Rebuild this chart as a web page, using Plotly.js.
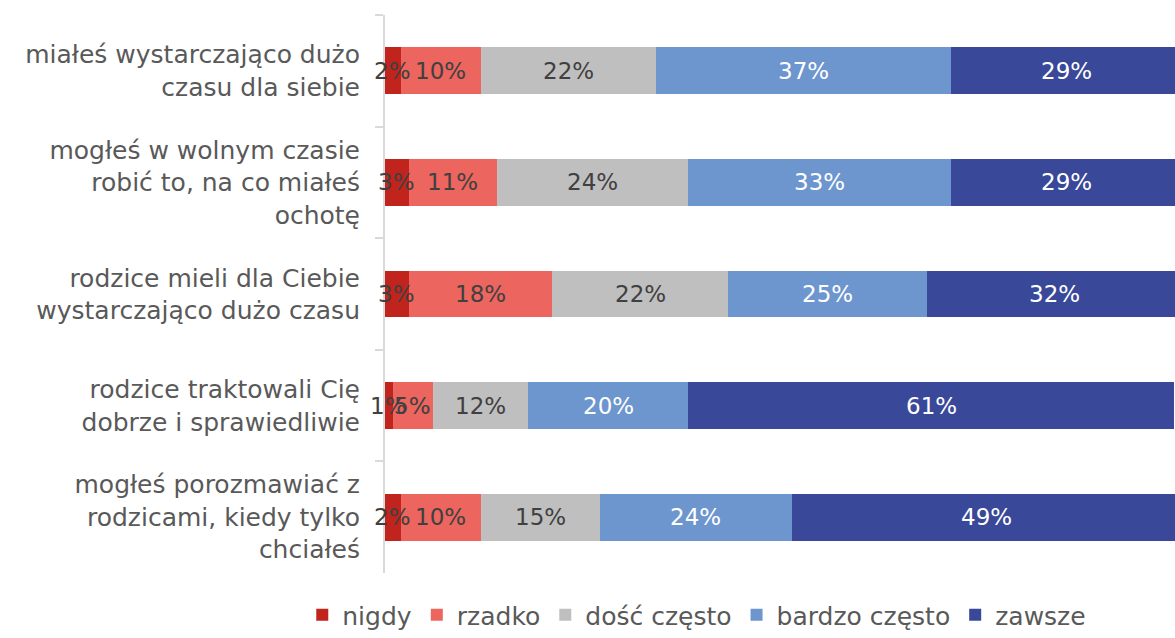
<!DOCTYPE html>
<html><head><meta charset="utf-8">
<script src="https://cdn.plot.ly/plotly-3.0.1.min.js"></script>
<style>html,body{margin:0;padding:0;background:#fff;}#chart{width:1175px;height:638px;}</style>
</head><body><div id="chart"></div>
<script>
const categories = [
  "miałeś wystarczająco dużo<br>czasu dla siebie",
  "mogłeś w wolnym czasie<br>robić to, na co miałeś<br>ochotę",
  "rodzice mieli dla Ciebie<br>wystarczająco dużo czasu",
  "rodzice traktowali Cię<br>dobrze i sprawiedliwie",
  "mogłeś porozmawiać z<br>rodzicami, kiedy tylko<br>chciałeś"
];
const seriesNames = ["nigdy", "rzadko", "dość często", "bardzo często", "zawsze"];
const nigdy = [2, 3, 3, 1, 2];
const rzadko = [10, 11, 18, 5, 10];
const dosc = [22, 24, 22, 12, 15];
const bardzo = [37, 33, 25, 20, 24];
const zawsze = [29, 29, 32, 61, 49];
const colors = ["#C0241C", "#EC655E", "#BFBFBF", "#6D95CE", "#3A4899"];
const textColors = ["#404040", "#404040", "#404040", "#ffffff", "#ffffff"];
const values = [nigdy, rzadko, dosc, bardzo, zawsze];

const FONT = "DejaVu Sans";
const traces = values.map((v, i) => ({
  type: "bar",
  orientation: "h",
  name: seriesNames[i],
  y: categories,
  x: v,
  marker: {color: colors[i], line: {width: 0}},
  hoverinfo: "skip"
}));

// data labels as annotations centred on each stacked segment
const annotations = [];
const cum = categories.map(() => 0);
values.forEach((v, i) => {
  v.forEach((d, j) => {
    annotations.push({
      x: cum[j] + d / 2, y: categories[j], xref: "x", yref: "y",
      text: d + "%", showarrow: false,
      xanchor: "center", yanchor: "middle",
      font: {family: FONT, size: 23, color: textColors[i]}
    });
    cum[j] += d;
  });
});

const layout = {
  width: 1175, height: 638,
  margin: {l: 385, r: 0, t: 15, b: 65, pad: 0, autoexpand: false},
  barmode: "stack",
  bargap: 0.58,
  paper_bgcolor: "#fff",
  plot_bgcolor: "#fff",
  showlegend: true,
  annotations: annotations,
  legend: {
    orientation: "h", xref: "container", yref: "container",
    x: 0.593, xanchor: "center", y: -0.01, yanchor: "bottom",
    font: {family: FONT, size: 25, color: "#595959"},
    itemwidth: 30, traceorder: "normal", tracegroupgap: 0
  },
  xaxis: {range: [0, 99.1], showgrid: false, zeroline: false, showticklabels: false, ticks: "", showline: false, fixedrange: true},
  yaxis: {
    autorange: "reversed",
    showline: true, linecolor: "#D9D9D9", linewidth: 2,
    ticks: "outside", ticklen: 8, tickcolor: "#D9D9D9", tickwidth: 2,
    tickson: "boundaries",
    showgrid: false, zeroline: false,
    ticklabelstandoff: 18,
    tickfont: {family: FONT, size: 25, color: "#595959"}
  },
  font: {family: FONT, color: "#595959"}
};
Plotly.newPlot("chart", traces, layout, {displayModeBar: false, staticPlot: true});
</script></body></html>
